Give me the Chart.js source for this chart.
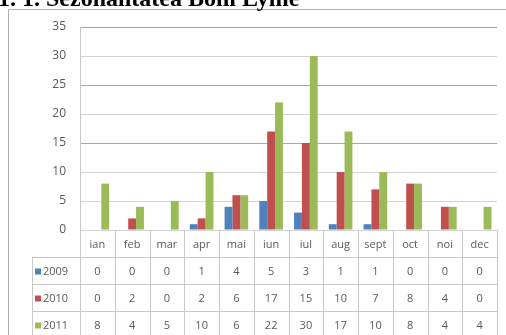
<!DOCTYPE html>
<html>
<head>
  <script src="https://cdn.jsdelivr.net/npm/chart.js"></script>
  <style>
    body { margin: 0; background: #fff; overflow: hidden; }
    .wrap { position: relative; width: 506px; height: 335px; }
    .title {
      position: absolute; left: -2px; top: -15px; margin: 0;
      font: bold 24px "Liberation Serif", "Times New Roman", serif;
      color: #000; white-space: nowrap;
    }
    canvas { position: absolute; left: 0; top: 0; }
  </style>
</head>
<body>
<div class="wrap">
  <canvas id="lyme" width="506" height="335"></canvas>
  <div class="title">1. 1. Sezonalitatea Bolii Lyme</div>
</div>
<script>
const months = ['ian', 'feb', 'mar', 'apr', 'mai', 'iun', 'iul', 'aug', 'sept', 'oct', 'noi', 'dec'];
const years = ['2009', '2010', '2011'];
const cases2009 = [0, 0, 0, 1, 4, 5, 3, 1, 1, 0, 0, 0];
const cases2010 = [0, 2, 0, 2, 6, 17, 15, 10, 7, 8, 4, 0];
const cases2011 = [8, 4, 5, 10, 6, 22, 30, 17, 10, 8, 4, 4];
const colors = ['#4F81BD', '#C0504D', '#9BBB59'];

const fontFam = '"Open Sans", "Liberation Sans", sans-serif';
const txtFont = '11px ' + fontFam;
const txtColor = '#595959';
const lineColor = '#c8c8c8';

// frame + data table under the plot (Excel style)
const tablePlugin = {
  id: 'dataTable',
  beforeDraw(chart) {
    const ctx = chart.ctx;
    ctx.save();
    ctx.strokeStyle = '#b0b0b0';
    ctx.lineWidth = 1;
    ctx.beginPath();
    ctx.moveTo(8.5, 340);
    ctx.lineTo(8.5, 9.5);
    ctx.lineTo(510, 9.5);
    ctx.stroke();
    ctx.restore();
  },
  afterDraw(chart) {
    const ctx = chart.ctx;
    const area = chart.chartArea;
    const x = chart.scales.x;
    const step = (area.right - area.left) / months.length;
    const rowH = 27;
    const top = area.bottom;
    const legLeft = 32;
    const series = [cases2009, cases2010, cases2011];

    ctx.save();
    ctx.strokeStyle = lineColor;
    ctx.lineWidth = 1;
    ctx.beginPath();
    // vertical lines
    for (let i = 0; i <= months.length; i++) {
      const vx = Math.round(area.left + i * step) + 0.5;
      ctx.moveTo(vx, top);
      ctx.lineTo(vx, 340);
    }
    ctx.moveTo(legLeft + 0.5, top + rowH);
    ctx.lineTo(legLeft + 0.5, 340);
    // horizontal lines
    for (let r = 1; r <= 3; r++) {
      const hy = Math.round(top + r * rowH) + 0.5;
      ctx.moveTo(legLeft, hy);
      ctx.lineTo(area.right, hy);
    }
    ctx.stroke();

    ctx.font = txtFont;
    ctx.fillStyle = txtColor;
    ctx.textAlign = 'center';
    ctx.textBaseline = 'middle';
    months.forEach((m, i) => {
      ctx.fillText(m, x.getPixelForValue(i), top + rowH / 2 + 1);
    });
    series.forEach((vals, r) => {
      const cy = top + rowH * (r + 1) + rowH / 2 + 1;
      ctx.textAlign = 'center';
      ctx.fillStyle = txtColor;
      vals.forEach((v, i) => ctx.fillText(String(v), x.getPixelForValue(i), cy));
      ctx.fillStyle = colors[r];
      ctx.fillRect(legLeft + 3, cy - 3, 6, 6);
      ctx.fillStyle = txtColor;
      ctx.textAlign = 'left';
      ctx.fillText(years[r], legLeft + 11, cy);
    });
    ctx.restore();
  }
};

new Chart(document.getElementById('lyme'), {
  type: 'bar',
  data: {
    labels: months,
    datasets: [
      { label: years[0], data: cases2009, backgroundColor: colors[0] },
      { label: years[1], data: cases2010, backgroundColor: colors[1] },
      { label: years[2], data: cases2011, backgroundColor: colors[2] }
    ]
  },
  options: {
    responsive: false,
    animation: false,
    layout: { padding: { top: 27, right: 9, bottom: 105, left: 0 } },
    datasets: { bar: { categoryPercentage: 0.68, barPercentage: 1 } },
    plugins: { legend: { display: false }, tooltip: { enabled: false } },
    scales: {
      x: { display: false },
      y: {
        min: 0, max: 35,
        afterFit: (s) => { s.width = 80; },
        ticks: { stepSize: 5, padding: 14, color: txtColor, font: { size: 12, family: fontFam } },
        grid: {
          drawTicks: false,
          color: (c) => (c.tick.value === 15 || c.tick.value === 25 || c.tick.value === 35) ? '#a8a8a8' : '#d4d4d4',
          lineWidth: 1
        },
        border: { color: '#c8c8c8' }
      }
    }
  },
  plugins: [tablePlugin]
});
</script>
</body>
</html>
